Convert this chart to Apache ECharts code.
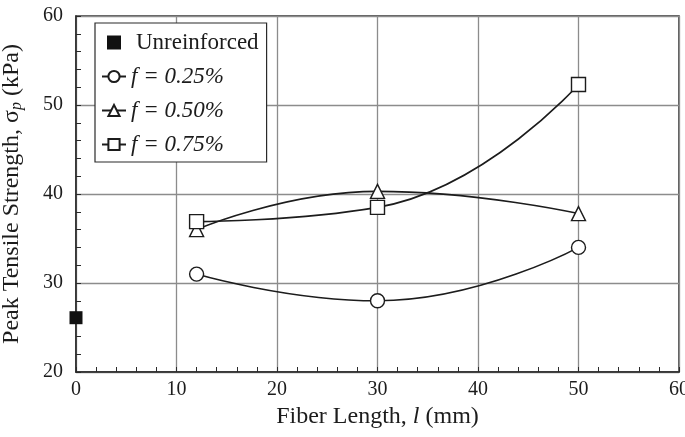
<!DOCTYPE html>
<html>
<head>
<meta charset="utf-8">
<script src="https://cdn.jsdelivr.net/npm/echarts@6/dist/echarts.min.js"></script>
<style>
  html, body { margin: 0; padding: 0; background: #fff; }
  #chart { width: 685px; height: 437px; }
</style>
</head>
<body>
<div id="chart"></div>
<script>
// Fiber lengths (mm) tested for each fiber content
const fiberLengths = [12, 30, 50];

// Peak tensile strength (kPa) per fiber content
const f025 = [31.0, 28.0, 34.0];
const f050 = [36.0, 40.3, 37.8];
const f075 = [36.9, 38.5, 52.3];

// Unreinforced specimen (zero fiber length)
const unreinforced = [[0, 26.1]];

const seriesNames = ['Unreinforced', 'f = 0.25%', 'f = 0.50%', 'f = 0.75%'];
const xTicks = [0, 10, 20, 30, 40, 50, 60];
const yTicks = [20, 30, 40, 50, 60];

const FONT = "'Liberation Serif', 'Times New Roman', serif";
const INK = '#1c1c1c';

function pairs(ys) {
  return fiberLengths.map((x, i) => [x, ys[i]]);
}

function curve(name, ys, symbol) {
  return {
    name: name,
    type: 'line',
    data: pairs(ys),
    smooth: 0.5,
    symbol: symbol,
    symbolSize: 14,
    showSymbol: true,
    lineStyle: { color: INK, width: 1.6 },
    itemStyle: { color: '#fff', borderColor: INK, borderWidth: 1.4 },
    emphasis: { disabled: true },
    z: 3
  };
}

const chart = echarts.init(document.getElementById('chart'), null, { renderer: 'canvas' });

chart.setOption({
  animation: false,
  backgroundColor: '#fff',
  textStyle: { fontFamily: FONT, color: INK },
  grid: {
    left: 76, right: 6, top: 16, bottom: 65,
    outerBoundsMode: 'none',
    containLabel: false,
    show: true,
    borderColor: '#2a2a2a',
    borderWidth: 1.5,
    backgroundColor: 'transparent'
  },
  legend: {
    orient: 'vertical',
    left: 95,
    top: 23,
    padding: [8, 8, 6, 6],
    itemGap: 11,
    itemWidth: 24,
    itemHeight: 14,
    backgroundColor: '#fff',
    borderColor: '#2a2a2a',
    borderWidth: 1.2,
    borderRadius: 0,
    data: [
      { name: seriesNames[0], icon: 'path://M0,0h10v10h-10z', itemStyle: { color: '#111', opacity: 1 } },
      seriesNames[1], seriesNames[2], seriesNames[3]
    ],
    formatter: function (name) {
      return name === seriesNames[0] ? '{u|' + name + '}' : '{i|' + name + '}';
    },
    textStyle: {
      fontFamily: FONT,
      color: INK,
      fontSize: 23,
      rich: {
        u: { fontFamily: FONT, fontSize: 23, color: INK, padding: [0, 0, 0, 5] },
        i: { fontFamily: FONT, fontSize: 23, fontStyle: 'italic', color: INK }
      }
    },
    selectedMode: false
  },
  xAxis: {
    type: 'value',
    min: xTicks[0],
    max: xTicks[xTicks.length - 1],
    interval: 10,
    name: 'Fiber Length, {i|l} (mm)',
    nameLocation: 'middle',
    nameGap: 26,
    nameTextStyle: {
      fontFamily: FONT, fontSize: 24, color: INK,
      rich: { i: { fontFamily: FONT, fontSize: 24, fontStyle: 'italic', color: INK } }
    },
    axisLine: { show: true, lineStyle: { color: '#2a2a2a', width: 1.5 } },
    axisTick: { show: true, inside: true, length: 5, lineStyle: { color: '#2a2a2a' } },
    minorTick: { show: true, splitNumber: 5, length: 5, lineStyle: { color: '#2a2a2a' } },
    axisLabel: { fontFamily: FONT, fontSize: 20, color: INK, margin: 8 },
    splitLine: { show: true, lineStyle: { color: '#8c8c8c', width: 1.3 } }
  },
  yAxis: {
    type: 'value',
    min: yTicks[0],
    max: yTicks[yTicks.length - 1],
    interval: 10,
    name: 'Peak Tensile Strength, σ{sub|p} (kPa)',
    nameLocation: 'middle',
    nameGap: 51,
    nameTextStyle: {
      fontFamily: FONT, fontSize: 24, color: INK,
      rich: {
        sub: { fontFamily: FONT, fontSize: 16, fontStyle: 'italic', color: INK, padding: [10, 0, 0, 0] }
      }
    },
    axisLine: { show: true, lineStyle: { color: '#2a2a2a', width: 1.5 } },
    axisTick: { show: true, inside: true, length: 5, lineStyle: { color: '#2a2a2a' } },
    minorTick: { show: true, splitNumber: 5, length: 5, lineStyle: { color: '#2a2a2a' } },
    axisLabel: { fontFamily: FONT, fontSize: 20, color: INK, margin: 13 },
    splitLine: { show: true, lineStyle: { color: '#8c8c8c', width: 1.3 } }
  },
  series: [
    {
      name: seriesNames[0],
      type: 'scatter',
      data: unreinforced,
      symbol: 'rect',
      symbolSize: 13,
      clip: false,
      itemStyle: { color: '#111', opacity: 1 },
      emphasis: { disabled: true },
      z: 4
    },
    curve(seriesNames[1], f025, 'circle'),
    curve(seriesNames[2], f050, 'triangle'),
    curve(seriesNames[3], f075, 'rect')
  ]
});
</script>
</body>
</html>
